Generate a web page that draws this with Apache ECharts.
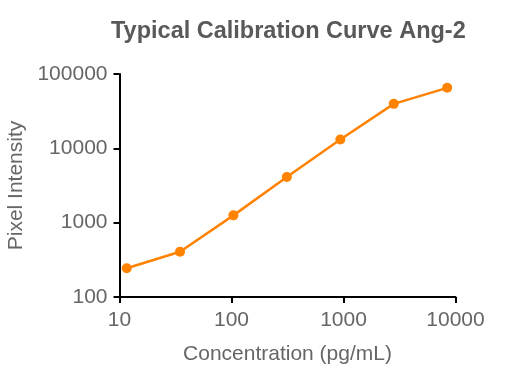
<!DOCTYPE html>
<html>
<head>
<meta charset="utf-8">
<script src="https://cdn.jsdelivr.net/npm/echarts@6/dist/echarts.min.js"></script>
<style>html,body{margin:0;padding:0;background:#fff}#c{width:510px;height:382px}</style>
</head>
<body>
<div id="c"></div>
<script>
var concentrations = [11.6, 34.7, 104, 312, 937, 2810, 8430];
var intensities = [244, 406, 1254, 4118, 13140, 39650, 65160];
var xTicks = [10, 100, 1000, 10000];
var yTicks = [100, 1000, 10000, 100000];

var chart = echarts.init(document.getElementById('c'));
var fontFam = '"Liberation Sans", Arial, Helvetica, sans-serif';
var gray = '#666666';
chart.setOption({
  animation: false,
  title: {
    text: 'Typical Calibration Curve Ang-2',
    left: 106, top: 15,
    textStyle: {fontFamily: fontFam, fontSize: 23.5, fontWeight: 'bold', color: '#595959'}
  },
  grid: {left: 119.5, right: 54.5, top: 74, bottom: 85, containLabel: false, outerBoundsMode: 'none'},
  xAxis: {
    type: 'log', logBase: 10, min: xTicks[0], max: xTicks[xTicks.length-1],
    name: 'Concentration (pg/mL)', nameLocation: 'middle', nameGap: 47,
    nameTextStyle: {fontFamily: fontFam, fontSize: 21, color: gray},
    axisLine: {lineStyle: {color: '#000', width: 2}},
    axisTick: {inside: false, length: 6, lineStyle: {color: '#000', width: 2}},
    axisLabel: {fontFamily: fontFam, fontSize: 21, color: gray, margin: 13,
      formatter: function(v){return String(Math.round(v));}},
    splitLine: {show: false}, minorTick: {show: false}
  },
  yAxis: {
    type: 'log', logBase: 10, min: yTicks[0], max: yTicks[yTicks.length-1],
    name: 'Pixel Intensity', nameLocation: 'middle', nameGap: 92, nameRotate: 90,
    nameTextStyle: {fontFamily: fontFam, fontSize: 21, color: gray},
    axisLine: {lineStyle: {color: '#000', width: 2}},
    axisTick: {inside: false, length: 6, lineStyle: {color: '#000', width: 2}},
    axisLabel: {fontFamily: fontFam, fontSize: 21, color: gray, margin: 12,
      formatter: function(v){return String(Math.round(v));}},
    splitLine: {show: false}
  },
  series: [{
    type: 'line',
    data: concentrations.map(function(c, i){return [c, intensities[i]];}),
    symbol: 'circle', symbolSize: 10,
    lineStyle: {color: '#FF8200', width: 2.5},
    itemStyle: {color: '#FF8200'}
  }]
});
</script>
</body>
</html>
